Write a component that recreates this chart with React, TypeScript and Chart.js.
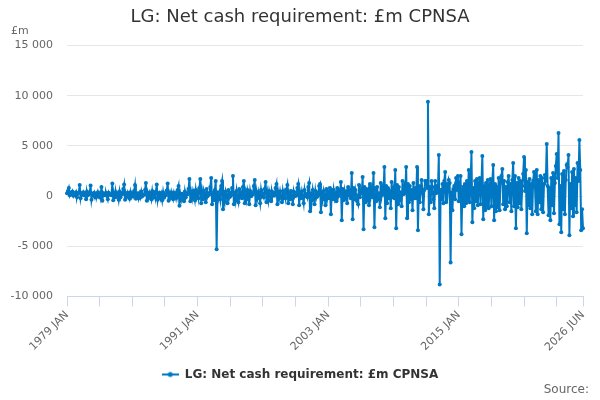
import { useEffect, useRef } from "react";
import { Chart, registerables } from "chart.js";

Chart.register(...registerables);

const FONT = "'DejaVu Sans', sans-serif";
const LINE_COLOR = "#0077c2";

const MONTHS = ["JAN", "FEB", "MAR", "APR", "MAY", "JUN", "JUL", "AUG", "SEP", "OCT", "NOV", "DEC"];
const FIRST_YEAR = 1979;

// £m, monthly values
const values1979to1986 = [
  300, 500, 800, 100, 350, 200, 450, 50, 300, 150, 400, -100,
  250, 350, 1100, -200, 300, 150, 400, 100, 250, -300, 450, 100,
  200, 300, 1050, -350, 250, 100, 350, -100, 200, 50, 400, 0,
  250, -150, 900, -450, 300, 100, 200, 350, 50, -300, 350, 150,
  200, 100, 1250, -400, 300, -100, 400, 0, 250, -350, 450, -100,
  300, 200, 700, 1150, -350, 250, -50, 350, 50, -250, 400, -50,
  250, 0, 500, 1100, -250, 200, 300, -200, 250, -100, 450, 0,
  200, 150, 600, 1300, -450, 300, -150, 350, 100, -300, 500, -100,
];

const values1987to1994 = [
  250, -100, 450, 1150, -350, 200, 350, -200, 200, -400, 400, -150,
  200, 100, 550, 1250, -450, 250, -100, 400, 0, -300, 350, 50,
  300, -150, 600, 1000, -950, 200, -300, 250, 150, -500, 450, -100,
  250, 200, 700, 1700, -500, 350, -200, 500, 100, -400, 600, -100,
  350, -200, 800, 1700, -700, 400, -300, 500, 200, -600, 700, 0,
  300, 200, 900, 1800, -800, 350, -400, 600, 1500, -5300, 400, -200,
  350, -300, 1000, 1500, -1300, 250, -500, 450, 100, -700, 600, -100,
  300, 100, 800, 2000, -800, 350, -400, 500, -200, -600, 700, 0,
];

const values1995to2002 = [
  350, -200, 900, 1500, -700, 300, -300, 600, 200, -800, 500, 0,
  300, 200, 1000, 1600, -900, 400, -200, 400, -100, -700, 600, 0,
  200, -100, 700, 1400, -600, 300, -400, 500, 100, -500, 450, 50,
  300, 100, 800, 1200, -800, 350, -200, 450, -100, -600, 500, -100,
  350, -200, 650, 1100, -700, 200, -300, 500, 0, -800, 450, 0,
  300, 100, 800, 1200, -900, 350, -200, 450, -100, -700, 600, 50,
  200, -100, 900, 1300, -1500, 300, -400, 600, 0, -800, 500, -100,
  300, 100, 1000, 1200, -1600, 350, -300, 500, 50, -900, 700, -200,
];

const values2003to2010 = [
  400, -200, 800, -1800, 600, -300, 600, -200, 200, -500, 800, 0,
  500, 200, 1400, -2400, 700, -400, 500, -100, 300, -700, 900, 100,
  600, -200, 2300, -2300, 800, -300, 600, 100, -500, -800, 1100, -100,
  500, 300, 1900, -3300, 900, -600, 700, -200, 400, -900, 1200, 0,
  700, -100, 2300, -3100, 800, -500, 900, -300, 300, -1100, 1300, 100,
  800, 400, 2900, -2200, 1000, -700, 800, -200, 500, -1200, 1400, -100,
  600, -200, 2600, -3200, 1100, -800, 900, -400, 400, -1000, 1500, 200,
  900, 300, 2900, -2200, 1200, -600, 1000, -300, 600, -1400, 1300, -200,
];

const values2011to2018 = [
  800, -200, 2900, -3400, 1000, -600, 700, 1600, 300, -1300, 600, 1500,
  1500, 800, 9400, -1800, 900, -600, 1500, 900, -300, -1200, 1500, 300,
  1000, 400, 4100, -8800, 600, -300, 1200, -700, 1500, 2400, -600, 1200,
  500, 1600, 1300, -6600, 400, -1400, 700, 1000, -300, 1800, 600, 2000,
  -500, 1000, 2000, -3800, 600, 900, -1000, 1200, -700, 1500, -300, 2600,
  -600, 1200, 4400, -2600, 800, -1200, 1500, -500, 1700, -900, 1200, 1800,
  -800, 1300, 4000, -2300, 1000, -1400, 1300, -900, 1600, -1200, 1000, 1700,
  -1000, 1400, 3100, -2400, 1200, -1500, 900, -1100, 1800, -1400, 1300, 2000,
];

const values2019to2026 = [
  2700, -800, 1500, -1300, 900, -1000, 1400, 2000, -600, 1200, -1500, 1600,
  3300, -1000, 2000, -3200, 1300, -1100, 1800, -700, 1500, -1300, 1000, 2200,
  3900, 500, 2600, -3700, 1400, -900, 1700, -1200, 1200, -1800, 1500, 2400,
  1000, -1500, 2600, -1800, 1600, -600, 2000, -1300, 1800, -1600, 1200, 2100,
  1500, 5200, 1000, -1900, 800, -2400, 1800, -900, 2300, -1700, 1300, 3000,
  4200, 1800, 6300, -2800, 1000, -3600, 2200, -1300, 2500, -1800, 1600, 3100,
  2900, 4100, -3900, 1200, -1200, 2400, -2000, 2700, -900, 1800, -1600, 3300,
  1500, 5600, 2600, -3400, -1300, -3200,
];

const seriesValues = [
  ...values1979to1986,
  ...values1987to1994,
  ...values1995to2002,
  ...values2003to2010,
  ...values2011to2018,
  ...values2019to2026,
];

const categories = seriesValues.map(
  (_, i) => `${FIRST_YEAR + Math.floor(i / 12)} ${MONTHS[i % 12]}`
);

const TITLE = "LG: Net cash requirement: £m CPNSA";
const SERIES_NAME = "LG: Net cash requirement: £m CPNSA";
const Y_UNIT = "£m";
const SOURCE_TEXT = "Source:";
const Y_MIN = -10000;
const Y_MAX = 15000;
const Y_STEP = 5000;
const TICK_EVERY = 36;
const LABEL_EVERY = 144;

function formatThousands(n: number): string {
  const s = Math.abs(n).toString().replace(/\B(?=(\d{3})+(?!\d))/g, " ");
  return (n < 0 ? "-" : "") + s;
}

export default function App() {
  const canvasRef = useRef<HTMLCanvasElement | null>(null);

  useEffect(() => {
    document.body.style.margin = "0";
    const canvas = canvasRef.current;
    if (!canvas) return;

    const marker = document.createElement("canvas");
    marker.width = 17;
    marker.height = 8;
    const mctx = marker.getContext("2d");
    if (mctx) {
      mctx.strokeStyle = LINE_COLOR;
      mctx.lineWidth = 2;
      mctx.beginPath();
      mctx.moveTo(0, 4);
      mctx.lineTo(17, 4);
      mctx.stroke();
      mctx.fillStyle = LINE_COLOR;
      mctx.beginPath();
      mctx.arc(8.5, 4, 2.5, 0, Math.PI * 2);
      mctx.fill();
    }

    const lastIndex = categories.length - 1;

    const extraText = {
      id: "extraText",
      afterDraw(chart: any) {
        const ctx = chart.ctx;
        ctx.save();
        ctx.fillStyle = "#666";
        ctx.textBaseline = "middle";
        ctx.font = `11px ${FONT}`;
        ctx.textAlign = "left";
        ctx.fillText(Y_UNIT, 11, 31);
        ctx.font = `12px ${FONT}`;
        ctx.textAlign = "right";
        ctx.fillText(SOURCE_TEXT, 589, 390);
        ctx.restore();
      },
    };

    const chart = new Chart(canvas, {
      type: "line",
      data: {
        labels: categories,
        datasets: [
          {
            label: SERIES_NAME,
            data: seriesValues,
            borderColor: LINE_COLOR,
            backgroundColor: LINE_COLOR,
            pointBackgroundColor: LINE_COLOR,
            pointBorderColor: LINE_COLOR,
            borderWidth: 2,
            pointRadius: 2,
            pointBorderWidth: 0,
            pointHoverRadius: 2,
            tension: 0,
          },
        ],
      },
      options: {
        responsive: false,
        animation: false,
        layout: { padding: { left: 0, right: 0, top: 0, bottom: 9.5 } },
        plugins: {
          title: {
            display: true,
            text: TITLE,
            color: "#333",
            font: { family: FONT, size: 18, weight: "normal" },
            padding: { top: 7, bottom: 17 },
          },
          legend: {
            display: true,
            position: "bottom",
            labels: {
              color: "#333",
              font: { family: FONT, size: 12, weight: "bold" },
              usePointStyle: true,
              pointStyleWidth: 17,
              padding: 10,
              generateLabels: (c: any) =>
                Chart.defaults.plugins.legend.labels
                  .generateLabels(c)
                  .map((l: any) => ({ ...l, pointStyle: marker })),
            },
          },
          tooltip: { enabled: false },
        },
        scales: {
          x: {
            type: "category",
            afterBuildTicks: (scale: any) => {
              scale.ticks = scale.ticks.filter(
                (t: any) => t.value % TICK_EVERY === 0 || t.value === lastIndex
              );
            },
            afterFit: (scale: any) => {
              scale.height = 62;
            },
            grid: {
              display: true,
              drawOnChartArea: false,
              drawTicks: true,
              tickLength: 10,
              color: "#ccd6eb",
            },
            border: { display: true, color: "#ccd6eb" },
            ticks: {
              autoSkip: false,
              minRotation: 45,
              maxRotation: 45,
              padding: 2,
              color: "#666",
              font: { family: FONT, size: 11 },
              callback: (value: any) => {
                const v = Number(value);
                if (v % LABEL_EVERY === 0 || v === lastIndex) return categories[v];
                return "";
              },
            },
          },
          y: {
            type: "linear",
            min: Y_MIN,
            max: Y_MAX,
            afterFit: (scale: any) => {
              scale.width = 67;
            },
            grid: { color: "#e6e6e6", drawTicks: false },
            border: { display: false },
            ticks: {
              stepSize: Y_STEP,
              padding: 14,
              color: "#666",
              font: { family: FONT, size: 11 },
              callback: (value: any) => formatThousands(Number(value)),
            },
          },
          yRight: {
            type: "linear",
            position: "right",
            display: true,
            afterFit: (scale: any) => {
              scale.width = 17;
            },
            grid: { display: false },
            border: { display: false },
            ticks: { display: false },
          },
        },
      },
      plugins: [extraText],
    } as any);

    return () => {
      chart.destroy();
    };
  }, []);

  return (
    <div style={{ width: 600, height: 400 }}>
      <canvas ref={canvasRef} width={600} height={400} style={{ width: 600, height: 400 }} />
    </div>
  );
}
